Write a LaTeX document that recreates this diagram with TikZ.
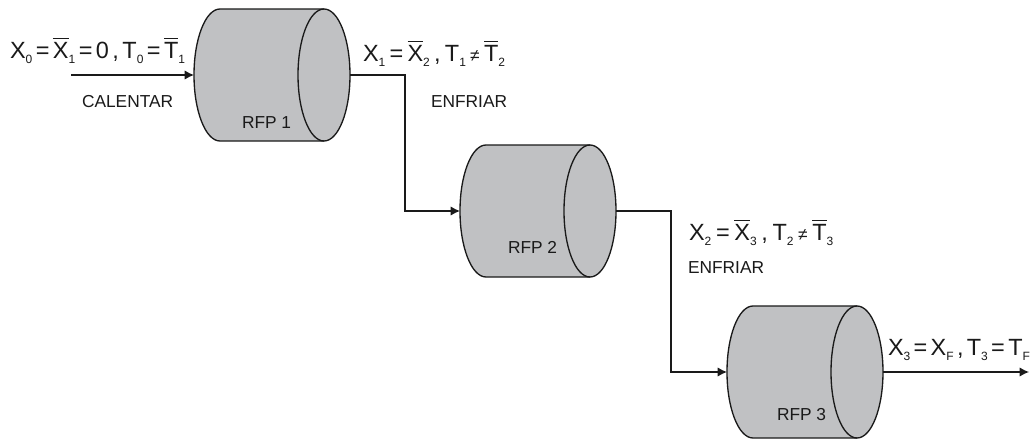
\documentclass[tikz,border=0pt]{standalone}
\usepackage{fontspec}
\setmainfont{Liberation Sans}
\usetikzlibrary{arrows.meta}
\definecolor{cylfill}{HTML}{C0C1C3}
\definecolor{inkc}{HTML}{1A1A1A}
\newcommand{\ovl}[1]{\leavevmode\vbox{\hrule height 0.8pt\kern 2.2pt\hbox{#1}}}
\newcommand{\sbs}[1]{\raisebox{-4pt}{\fontsize{9}{9}\selectfont #1}}
\newcommand{\neqs}{{\fontsize{13}{13}\selectfont ≠}}
\newcommand{\eqsp}[1]{\spaceskip=#1\relax}
\newcommand{\cylbody}[1]{%
  \path[draw=inkc,line width=1pt,fill=cylfill]
    ([xshift=19.5pt]#1.north west) arc[start angle=90,end angle=270,x radius=19.5pt,y radius=49.5pt]
    -- ([xshift=-19.5pt]#1.south east) arc[start angle=270,end angle=450,x radius=19.5pt,y radius=49.5pt]
    -- cycle;
  \draw[inkc,line width=1pt]
    ([xshift=-19.5pt]#1.north east) arc[start angle=90,end angle=270,x radius=19.5pt,y radius=49.5pt];
}
\tikzset{
  cyl/.style={rectangle,minimum width=117pt,minimum height=99pt,inner sep=0pt,outer sep=0pt},
  flow/.style={draw=inkc,line width=1pt,-{Latex[length=7pt,width=7pt]}},
  eqn/.style={anchor=base west,inner sep=0pt,outer sep=0pt,text=inkc,font=\fontsize{17.6}{20}\selectfont},
  lbl/.style={anchor=base west,inner sep=0pt,outer sep=0pt,text=inkc,font=\fontsize{13}{16}\selectfont}
}
\begin{document}
\begin{tikzpicture}[x=0.75pt,y=-0.75pt]
\useasboundingbox (0,0) rectangle (1032,439);
\fill[white] (0,0) rectangle (1032,439);
\node[cyl] (r1) at (272,75) {};
\node[cyl] (r2) at (538,211) {};
\node[cyl] (r3) at (805,372) {};
\cylbody{r1}
\cylbody{r2}
\cylbody{r3}
\coordinate (in1) at (71,75);
\coordinate (out3) at (1029,372);
\draw[flow] (in1) -- (r1.west);
\draw[flow] (r1.east) -- ++(55,0) |- (r2.west);
\draw[flow] (r2.east) -- ++(55,0) |- (r3.west);
\draw[flow] (r3.east) -- (out3);
\node[eqn] (f1) at (10,58) {\eqsp{2.6pt}X\sbs{0} = \ovl{X}\sbs{1} = 0 , T\sbs{0} = \ovl{T}\sbs{1}};
\node[eqn] (f2) at (363,61) {\eqsp{3.2pt}X\sbs{1} = \ovl{X}\sbs{2} , T\sbs{1} \neqs{} \ovl{T}\sbs{2}};
\node[eqn] (f3) at (689,240) {\eqsp{3.5pt}X\sbs{2} = \ovl{X}\sbs{3} , T\sbs{2} \neqs{} \ovl{T}\sbs{3}};
\node[eqn] (f4) at (888,355) {\eqsp{2.5pt}X\sbs{3} = X\sbs{F} , T\sbs{3} = T\sbs{F}};
\node[lbl] (l1) at (82,107) {CALENTAR};
\node[lbl] (l2) at (431,107) {ENFRIAR};
\node[lbl] (l3) at (688,273) {ENFRIAR};
\node[lbl] (n1) at (242,128) {RFP 1};
\node[lbl] (n2) at (508,253) {RFP 2};
\node[lbl] (n3) at (777,420) {RFP 3};
\end{tikzpicture}
\end{document}
